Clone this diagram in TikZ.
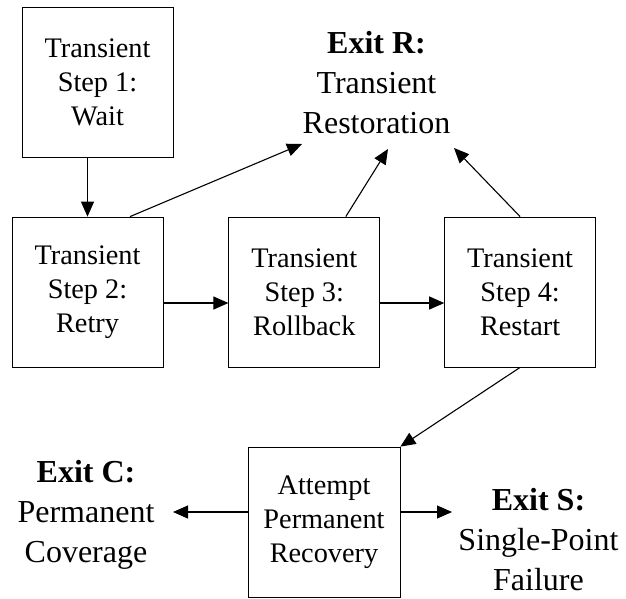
\documentclass[tikz,border=0pt]{standalone}
\usepackage{fontspec}
\setmainfont{Liberation Serif}
\usetikzlibrary{arrows.meta,positioning}

\begin{document}
\begin{tikzpicture}[x=1pt, y=-1pt, box/.style={draw,line width=0.8pt,minimum width=151pt,minimum height=150pt,align=center,inner sep=0pt,font=\fontsize{28.3}{34}\selectfont}, exitlbl/.style={align=center,inner sep=0pt,font=\fontsize{32}{40}\selectfont}, >={Triangle[length=15pt,width=13pt]}, every path/.append style={line width=1.1pt}]
\useasboundingbox (0,0) rectangle (626,598);
\node[box] (S1) at (97.5,82) {Transient\\ Step 1:\\ Wait};
\node[box] (S2) at (87.5,292) {Transient\\ Step 2:\\ Retry};
\node[box,right=65pt of S2] (S3) {Transient\\ Step 3:\\ Rollback};
\node[box,right=64pt of S3] (S4) {Transient\\ Step 4:\\ Restart};
\node[box,minimum width=152pt] (P) at (324,522) {Attempt\\ Permanent\\ Recovery};
\node[exitlbl] (R) at (376.5,82.5) {\textbf{Exit R:}\\ Transient\\ Restoration};
\node[exitlbl] (C) at (86,515) {\textbf{Exit C:}\\ Permanent\\ Coverage};
\node[exitlbl] (F) at (538.5,540) {\textbf{Exit S:}\\ Single-Point\\ Failure};
% arrow ends near the exit labels
\coordinate (R2) at (302,144);
\coordinate (R3) at (388,149);
\coordinate (R4) at (454,148);
\coordinate (Ctip) at (173,512);
\coordinate (Ftip) at (452,512);
\draw[->] (S2.north |- S1.south) -- (S2.north);
\draw[->] ([xshift=42.5pt]S2.north) -- (R2);
\draw[->] ([xshift=41.5pt]S3.north) -- (R3);
\draw[->] (S4.north) -- (R4);
\draw[->] ([yshift=-11pt]S2.east) -- ([yshift=-11pt]S3.west);
\draw[->] ([yshift=-11pt]S3.east) -- ([yshift=-11pt]S4.west);
\draw[->] (S4.south) -- (P.north east);
\draw[->] ([yshift=10pt]P.west) -- (Ctip);
\draw[->] ([yshift=10pt]P.east) -- (Ftip);
\end{tikzpicture}
\end{document}
